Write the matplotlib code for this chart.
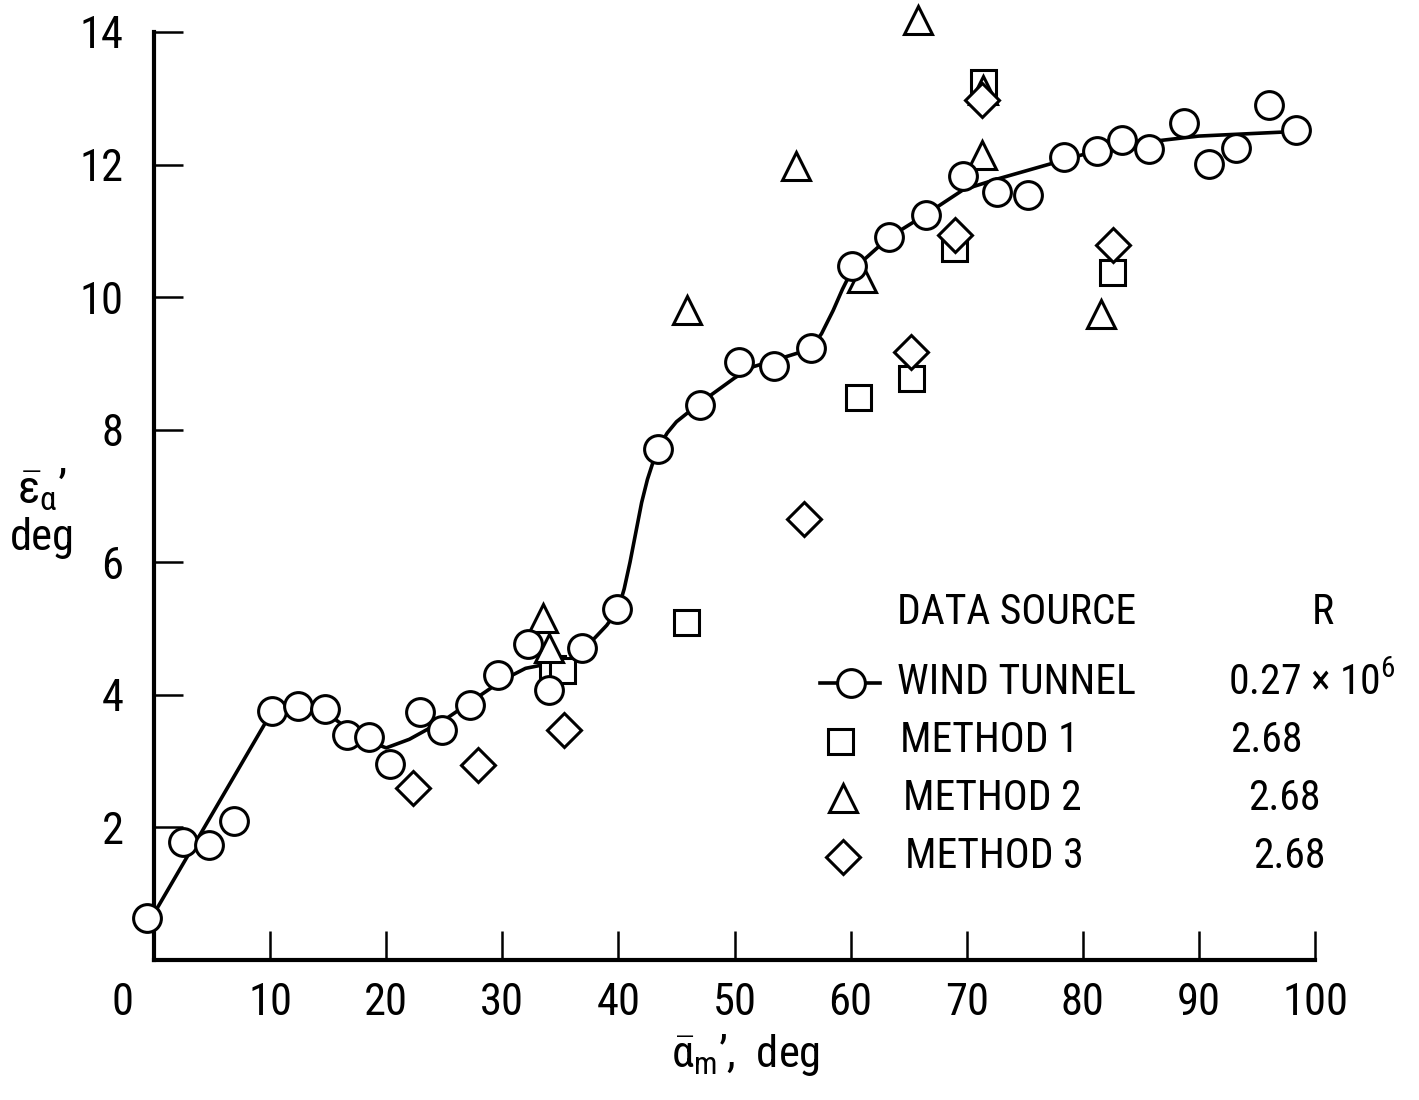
import matplotlib
matplotlib.use("Agg")
import matplotlib.pyplot as plt
from matplotlib.transforms import ScaledTranslation

FONT = ['Roboto Condensed', 'DejaVu Sans']
plt.rcParams['font.family'] = FONT
plt.rcParams['mathtext.fontset'] = 'custom'
plt.rcParams['mathtext.rm'] = 'Roboto Condensed'
plt.rcParams['mathtext.it'] = 'Roboto Condensed'

# wind tunnel data (circles)
wt_x = [-0.6, 2.5, 4.7, 6.9, 10.2, 12.4, 14.7, 16.6, 18.5, 20.3, 22.9, 24.8, 27.2,
        29.6, 32.2, 34.0, 36.9, 39.9, 43.4, 47.0, 50.4, 53.4, 56.6, 60.1, 63.3,
        66.5, 69.7, 72.6, 75.3, 78.4, 81.2, 83.4, 85.7, 88.7, 90.9, 93.2, 96.0, 98.4]
wt_y = [0.63, 1.78, 1.73, 2.10, 3.76, 3.83, 3.79, 3.39, 3.36, 2.96, 3.74, 3.47, 3.85,
        4.30, 4.77, 4.07, 4.71, 5.29, 7.71, 8.37, 9.02, 8.96, 9.23, 10.47, 10.90,
        11.24, 11.83, 11.58, 11.54, 12.11, 12.20, 12.37, 12.23, 12.62, 12.01, 12.25, 12.90, 12.52]

# faired curve through wind tunnel data
fair_x = [0.0, 10.2, 12.4, 14.7, 16.6, 18.5, 20.0, 22.0, 25.0, 28.0, 30.0, 32.0, 34.0,
          35.0, 37.0, 39.0, 40.0, 40.5, 41.0, 41.5, 42.0, 42.5, 43.0, 43.4, 44.2, 45.0,
          47.0, 50.0, 51.6, 53.5, 56.6, 57.5, 58.5, 59.3, 60.1, 63.3, 66.5, 69.7, 72.6,
          76.0, 80.0, 85.0, 90.0, 98.4]
fair_y = [0.70, 3.76, 3.83, 3.75, 3.50, 3.30, 3.20, 3.33, 3.62, 3.98, 4.22, 4.40, 4.47,
          4.45, 4.68, 5.05, 5.30, 5.60, 6.00, 6.45, 6.90, 7.25, 7.52, 7.71, 7.95, 8.12,
          8.40, 8.78, 8.95, 9.05, 9.22, 9.45, 9.80, 10.12, 10.40, 10.90, 11.25, 11.62, 11.78,
          11.95, 12.15, 12.33, 12.43, 12.50]

# method 1 (squares)
m1_x = [34.3, 35.1, 45.8, 60.6, 65.2, 68.9, 71.4, 82.5]
m1_y = [4.40, 4.38, 5.10, 8.49, 8.78, 10.74, 13.24, 10.38]

# method 2 (triangles)
m2_x = [33.5, 34.0, 45.9, 55.3, 61.0, 65.8, 71.3, 71.4, 81.6]
m2_y = [5.16, 4.70, 9.80, 11.98, 10.29, 14.18, 12.14, 13.12, 9.74]

# method 3 (diamonds)
m3_x = [22.3, 27.9, 35.3, 56.0, 65.2, 69.0, 71.3, 82.6]
m3_y = [2.59, 2.94, 3.47, 6.65, 9.17, 10.93, 12.97, 10.78]

x_ticks = [0, 10, 20, 30, 40, 50, 60, 70, 80, 90, 100]
y_ticks = [2, 4, 6, 8, 10, 12, 14]
legend_labels = ["WIND TUNNEL", "METHOD 1", "METHOD 2", "METHOD 3"]
legend_r = ["0.27 $\\times$ 10$^6$", "2.68", "2.68", "2.68"]

W, H = 1419, 1100
fig = plt.figure(figsize=(W / 100, H / 100), dpi=100)
ax = fig.add_axes([154 / W, 1 - 960 / H, (1315 - 154) / W, (960 - 32) / H])


def px(x, y):
    return x / W, 1 - y / H


ax.plot(fair_x, fair_y, color='black', lw=2.6, zorder=2)
mk = dict(color='black', mfc='white', mec='black', mew=2.2, ls='none', clip_on=False)
ax.plot(m1_x, m1_y, marker='s', ms=18, zorder=3, **mk)
ax.plot(m2_x, m2_y, marker='^', ms=20, zorder=3, **mk)
ax.plot(m3_x, m3_y, marker='D', ms=17, zorder=3, **mk)
ax.plot(wt_x, wt_y, marker='o', ms=20, zorder=4, **mk)

ax.set_xlim(0, 100)
ax.set_ylim(0, 14)
ax.set_xticks(x_ticks)
ax.set_yticks(y_ticks)
ax.tick_params(direction='in', length=21, width=1.8, labelsize=32)
ax.tick_params(axis='x', pad=16)
ax.tick_params(axis='y', pad=22)
for s in ['top', 'right']:
    ax.spines[s].set_visible(False)
for s in ['left', 'bottom']:
    ax.spines[s].set_linewidth(3)

# the 0 label sits left of the origin, with no tick mark
t0 = ax.xaxis.get_major_ticks()[0]
t0.tick1line.set_visible(False)
t0.label1.set_transform(t0.label1.get_transform() +
                        ScaledTranslation(-32 / 100, 0, fig.dpi_scale_trans))

fig.text(*px(745, 1055), r"$\bar{\alpha}_{\rm m}$’,  deg", fontsize=32, ha='center', va='center')
fig.text(*px(42, 490), r"$\bar{\varepsilon}_{\alpha}$’", fontsize=34, ha='center', va='center')
fig.text(*px(42, 538), "deg", fontsize=32, ha='center', va='center')

# legend block
fs = 30
fig.text(*px(897, 612), "DATA SOURCE", fontsize=fs, ha='left', va='center')
fig.text(*px(1323, 612), "R", fontsize=fs, ha='center', va='center')
rows_y = [683, 741, 798, 857]
text_x = [897, 900, 903, 905]
r_x = [1228, 1230, 1248, 1253]
for lab, r, yy, tx, rx in zip(legend_labels, legend_r, rows_y, text_x, r_x):
    fig.text(*px(tx, yy), lab, fontsize=fs, ha='left', va='center')
    fig.text(*px(rx, yy), r, fontsize=fs, ha='left', va='center')

lk = dict(color='black', mfc='white', mec='black', mew=2.2, ls='none', transform=fig.transFigure)
lx0, ly0 = px(820, 683)
lx1, _ = px(880, 683)
fig.lines.append(plt.Line2D([lx0, lx1], [ly0, ly0], lw=2.6, color='black', transform=fig.transFigure))
fig.lines.append(plt.Line2D([px(851, 683)[0]], [ly0], marker='o', ms=20, **lk))
fig.lines.append(plt.Line2D([px(840, 741)[0]], [px(840, 741)[1]], marker='s', ms=18, **lk))
fig.lines.append(plt.Line2D([px(843, 798)[0]], [px(843, 798)[1]], marker='^', ms=20, **lk))
fig.lines.append(plt.Line2D([px(843, 857)[0]], [px(843, 857)[1]], marker='D', ms=17, **lk))

fig.savefig("out.png", dpi=100)
